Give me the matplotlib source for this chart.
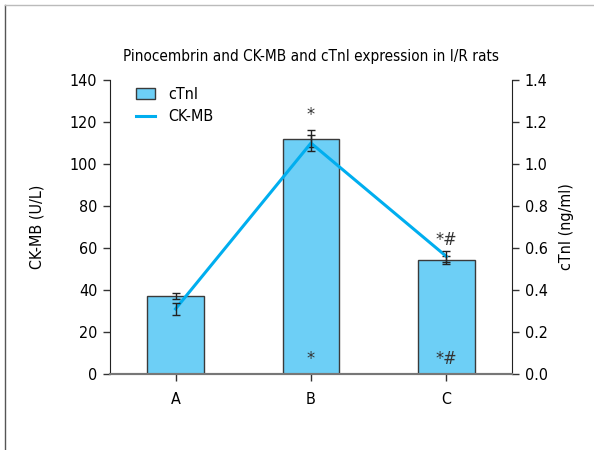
import matplotlib
matplotlib.use("Agg")
import matplotlib.pyplot as plt
from matplotlib.lines import Line2D
from matplotlib.patches import Patch

groups = ["A", "B", "C"]
ctni = [0.371, 1.12, 0.543]          # ng/ml, bars (right axis)
ctni_err = [0.015, 0.04, 0.02]
ckmb = [31, 110, 56]                 # U/L, line (left axis)
ckmb_err = [3, 4, 2.5]
marks_top = ["", "*", "*#"]
marks_top_y = [0.0, 1.235, 0.64]
marks_bottom = ["", "*", "*#"]

plt.rcParams["font.family"] = ["DejaVu Sans"]
plt.rcParams["font.stretch"] = "condensed"

bar_color = "#6dcff6"
line_color = "#00aeef"
x = list(range(len(groups)))

fig = plt.figure(figsize=(5.94, 4.5), dpi=100)
ax = fig.add_axes([0.185, 0.169, 0.677, 0.653])
ax2 = ax.twinx()

# bars: cTnI on the right axis
ax2.bar(x, ctni, width=0.42, color=bar_color, edgecolor="#3a3a3a", linewidth=1.0, zorder=2)
ax2.errorbar(x, ctni, yerr=ctni_err, fmt="none", ecolor="#222222", elinewidth=1.0,
             capsize=3, capthick=1.0, zorder=3)
for xi, t, ty, b in zip(x, marks_top, marks_top_y, marks_bottom):
    if t:
        ax2.text(xi, ty, t, ha="center", va="center", fontsize=13, color="#333333")
    if b:
        ax2.text(xi, 0.07, b, ha="center", va="center", fontsize=13, color="#333333")
ax2.set_ylim(0, 1.4)
ax2.set_yticks([0.0, 0.2, 0.4, 0.6, 0.8, 1.0, 1.2, 1.4])
ax2.set_yticklabels(["0.0", "0.2", "0.4", "0.6", "0.8", "1.0", "1.2", "1.4"])
ax2.set_ylabel("cTnI (ng/ml)", fontsize=11.5, labelpad=8)

# line: CK-MB on the left axis, drawn above the bars
ax.set_zorder(ax2.get_zorder() + 1)
ax.patch.set_visible(False)
ax.plot(x, ckmb, color=line_color, linewidth=2.2, zorder=4)
ax.errorbar(x, ckmb, yerr=ckmb_err, fmt="none", ecolor="#222222", elinewidth=1.0,
            capsize=3, capthick=1.0, zorder=5)
ax.set_ylim(0, 140)
ax.set_yticks(range(0, 141, 20))
ax.set_ylabel("CK-MB (U/L)", fontsize=11.5, labelpad=18)
ax.set_xlim(-0.485, 2.485)
ax.set_xticks(x)
ax.set_xticklabels(groups)

for a in (ax, ax2):
    a.tick_params(axis="both", labelsize=11.5, direction="out", length=5, width=1.0,
                  color="#333333", pad=4)
    a.spines["top"].set_visible(False)
    a.spines["bottom"].set_color("#777777")
    a.spines["bottom"].set_linewidth(1.5)
ax.tick_params(axis="x", pad=8)
ax.spines["right"].set_visible(False)
ax2.spines["left"].set_visible(False)
ax.spines["left"].set_color("#222222")
ax2.spines["right"].set_color("#222222")

ax.set_title("Pinocembrin and CK-MB and cTnI expression in I/R rats", fontsize=11, pad=14)

handles = [Patch(facecolor=bar_color, edgecolor="#3a3a3a", label="cTnI"),
           Line2D([], [], color=line_color, linewidth=2.2, label="CK-MB")]
ax.legend(handles=handles, loc="upper left", bbox_to_anchor=(0.03, 1.025), frameon=False,
          fontsize=11.5, handlelength=1.2, handletextpad=0.8, labelspacing=0.45)

# outer frame lines
fig.add_artist(Line2D([0.009, 0.009], [0.0, 0.989], transform=fig.transFigure,
                      color="#555555", linewidth=1.0))
fig.add_artist(Line2D([0.009, 1.0], [0.989, 0.989], transform=fig.transFigure,
                      color="#bbbbbb", linewidth=1.0))

fig.savefig("out.png", dpi=100)
